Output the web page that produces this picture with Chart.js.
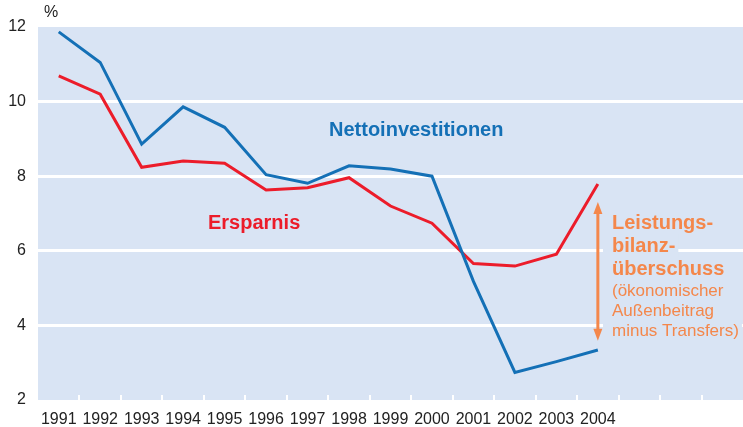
<!DOCTYPE html>
<html><head><meta charset="utf-8">
<script src="https://cdn.jsdelivr.net/npm/chart.js@4/dist/chart.umd.min.js"></script>
<style>html,body{margin:0;padding:0;background:#fff}#wrap{width:743px;height:427px;position:relative}</style>
</head><body><div id="wrap"><canvas id="c" width="743" height="427"></canvas></div>
<script>
const years = ['1991','1992','1993','1994','1995','1996','1997','1998','1999','2000','2001','2002','2003','2004','','',''];
const nettoinvestitionen = [11.87,11.05,8.86,9.86,9.31,8.04,7.81,8.28,8.19,8.0,5.18,2.74,3.03,3.34,null,null,null];
const ersparnis = [10.69,10.20,8.24,8.41,8.35,7.63,7.69,7.96,7.20,6.74,5.66,5.59,5.91,7.79,null,null,null];
const yTicks = [2,4,6,8,10,12];
const arrowRange = [7.31, 3.59];
const noteBold = ['Leistungs-','bilanz-','überschuss'];
const noteRegular = ['(ökonomischer','Außenbeitrag','minus Transfers)'];

const FONT = '"Liberation Sans", Arial, sans-serif';
const BG = '#D9E4F4';
const BLUE = '#1470B6';
const RED = '#EC1C2A';
const ORANGE = '#F4874B';

const deco = {
  id: 'deco',
  beforeDraw(chart) {
    const {ctx, chartArea: a} = chart;
    ctx.save();
    ctx.fillStyle = BG;
    ctx.fillRect(a.left, a.top, a.right - a.left, a.bottom - a.top);
    ctx.restore();
  },
  beforeDatasetsDraw(chart) {
    const {ctx, chartArea: a, scales: {x, y}} = chart;
    ctx.save();
    // small white ticks at category boundaries
    ctx.strokeStyle = '#fff';
    ctx.lineWidth = 2;
    for (let i = 1; i < years.length; i++) {
      const px = Math.round((x.getPixelForTick(i - 1) + x.getPixelForTick(i)) / 2);
      ctx.beginPath();
      ctx.moveTo(px, a.bottom - 5);
      ctx.lineTo(px, a.bottom);
      ctx.stroke();
    }
    // annotation text backgrounds
    const tx = 612;
    let ty = 223;
    ctx.font = 'bold 20px ' + FONT;
    const boxes = [];
    noteBold.forEach(t => { boxes.push([tx - 9, ty - 12, ctx.measureText(t).width + 12, 24]); ty += 23; });
    ctx.font = '17px ' + FONT;
    ty = 291;
    noteRegular.forEach(t => { boxes.push([tx - 9, ty - 10, ctx.measureText(t).width + 12, 20]); ty += 20; });
    ctx.fillStyle = BG;
    boxes.forEach(b => ctx.fillRect(b[0], b[1], b[2], b[3]));
    ctx.restore();
  },
  afterDraw(chart) {
    const {ctx, chartArea: a, scales: {x, y}} = chart;
    ctx.save();
    // percent sign
    ctx.fillStyle = '#222';
    ctx.font = '16px ' + FONT;
    ctx.textAlign = 'left';
    ctx.textBaseline = 'middle';
    ctx.fillText('%', a.left + 6, y.getPixelForValue(12) - 14);
    // series labels
    ctx.font = 'bold 20px ' + FONT;
    ctx.fillStyle = BLUE;
    ctx.fillText('Nettoinvestitionen', 329, 130);
    ctx.fillStyle = RED;
    ctx.fillText('Ersparnis', 208, 223);
    // arrow
    const ax = x.getPixelForValue(13);
    const y1 = y.getPixelForValue(arrowRange[0]);
    const y2 = y.getPixelForValue(arrowRange[1]);
    ctx.strokeStyle = ORANGE;
    ctx.fillStyle = ORANGE;
    ctx.lineWidth = 3;
    ctx.beginPath();
    ctx.moveTo(ax, y1 + 8);
    ctx.lineTo(ax, y2 - 8);
    ctx.stroke();
    ctx.beginPath();
    ctx.moveTo(ax, y1); ctx.lineTo(ax - 4.5, y1 + 12); ctx.lineTo(ax + 4.5, y1 + 12); ctx.closePath(); ctx.fill();
    ctx.beginPath();
    ctx.moveTo(ax, y2); ctx.lineTo(ax - 4.5, y2 - 12); ctx.lineTo(ax + 4.5, y2 - 12); ctx.closePath(); ctx.fill();
    // annotation text
    const tx = 612;
    let ty = 223;
    ctx.font = 'bold 20px ' + FONT;
    noteBold.forEach(t => { ctx.fillText(t, tx, ty); ty += 23; });
    ctx.font = '17px ' + FONT;
    ty = 291;
    noteRegular.forEach(t => { ctx.fillText(t, tx, ty); ty += 20; });
    ctx.restore();
  }
};

new Chart(document.getElementById('c'), {
  type: 'line',
  data: {
    labels: years,
    datasets: [
      {label: 'Nettoinvestitionen', data: nettoinvestitionen, borderColor: BLUE, borderWidth: 3, pointRadius: 0, tension: 0, fill: false},
      {label: 'Ersparnis', data: ersparnis, borderColor: RED, borderWidth: 3, pointRadius: 0, tension: 0, fill: false}
    ]
  },
  options: {
    responsive: false,
    animation: false,
    events: [],
    layout: {padding: {top: 27, right: 0, left: 0, bottom: 0}},
    plugins: {legend: {display: false}, tooltip: {enabled: false}},
    scales: {
      x: {
        offset: true,
        border: {display: false},
        grid: {display: false, drawTicks: false},
        ticks: {color: '#222', font: {family: FONT, size: 16}, padding: 10, maxRotation: 0, autoSkip: false},
        afterFit(s) { s.height = 27; }
      },
      y: {
        min: 2, max: 12,
        afterBuildTicks(s) { s.ticks = yTicks.map(v => ({value: v})); },
        border: {display: false},
        grid: {color: ctx => (ctx.tick && (ctx.tick.value === 2 || ctx.tick.value === 12)) ? 'rgba(0,0,0,0)' : '#fff', lineWidth: 3, drawTicks: false},
        ticks: {color: '#222', font: {family: FONT, size: 16}, padding: 12},
        afterFit(s) { s.width = 38; }
      }
    }
  },
  plugins: [deco]
});
</script></body></html>
